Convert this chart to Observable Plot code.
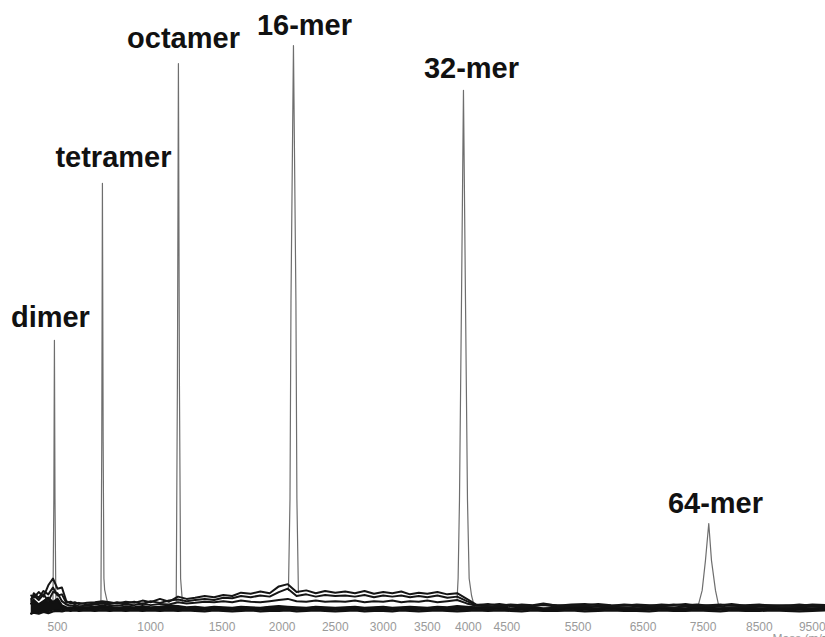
<!DOCTYPE html>
<html>
<head>
<meta charset="utf-8">
<script src="https://cdn.jsdelivr.net/npm/d3@7"></script>
<script src="https://cdn.jsdelivr.net/npm/@observablehq/plot@0.6"></script>
<style>
  html, body { margin: 0; padding: 0; background: #fff; }
  #chart svg { display: block; }
</style>
</head>
<body>
<div id="chart"></div>
<script>
// ---- data (mass in Da, intensity in arbitrary units) ----
const tickMass = [500, 1000, 1500, 2000, 2500, 3000, 3500, 4000, 4500, 5500, 6500, 7500, 8500, 9500];

const labelNames = ["dimer", "tetramer", "octamer", "16-mer", "32-mer", "64-mer"];
const labelMass  = [469, 780, 1218, 2203, 4039, 7715];
const labelValue = [50.3, 78.5, 99.6, 101.8, 94.2, 17.6];

// peak outlines [mass, intensity]
const peakDimer    = [[480, 1.5], [484, 20], [486.5, 48.0], [489, 20], [493, 1.5]];
const peakTetramer = [[712, 1.5], [716.5, 30], [720, 75.7], [724, 30], [728, 6], [732, 4], [742, 2.5], [752, 1.2]];
const peakOctamer  = [[1168, 2], [1176, 40], [1183, 96.8], [1190, 40], [1198, 6], [1210, 2]];
const peak16mer    = [[2056, 3.9], [2070, 20], [2079, 55], [2101.5, 100], [2124, 55], [2133, 20], [2147, 3.5]];
const peak32mer    = [[3860, 2.5], [3872, 6], [3889, 19.8], [3914, 55], [3938.6, 92.1], [3964, 55], [3989, 19.8], [4010, 6], [4040, 3], [4077, 1]];
const peak64mer    = [[7420, 1.4], [7484, 3.9], [7541, 9.2], [7598, 15.7], [7645, 9.2], [7715, 3.9], [7767, 1.4]];

// baseline noise of the overlaid spectra
const massGrid = [390, 400, 420, 440, 460, 480, 500, 520, 540, 560, 580, 600, 640, 680, 720, 760, 800, 850, 900, 950,
  1000, 1060, 1120, 1180, 1240, 1300, 1370, 1440, 1510, 1580, 1650, 1730, 1810, 1890, 1970, 2050, 2130, 2220, 2310, 2400,
  2500, 2600, 2700, 2800, 2900, 3000, 3100, 3200, 3300, 3400, 3500, 3620, 3740, 3860, 3980, 4100, 4250, 4400, 4550, 4700,
  4850, 5000, 5200, 5400, 5600, 5800, 6000, 6200, 6400, 6600, 6800, 7000, 7200, 7400, 7600, 7800, 8000, 8250, 8500, 8750,
  9000, 9250, 9500, 9750];

const traceA = [-0.2, 0.0, -0.2, 0.1, -0.1, 0.2,
  0.3, 0.2, 0.4, 0.3, 0.4, 0.3, 0.4, 0.3,
  0.4, 0.3, 0.4, 0.3, 0.4, 0.3, 0.4, 0.3, 0.4,
  0.3, 0.4, 0.3, 0.2, 0.4, 0.3, 0.2, 0.3, 0.4, 0.2, 0.3, 0.3, 0.4, 0.2, 0.3, 0.4, 0.3, 0.2,
  0.3, 0.4, 0.2, 0.3, 0.3, 0.2, 0.4, 0.3, 0.2, 0.3, 0.4, 0.3, 0.2, 0.3, 0.4,
  0.3, 0.4, 0.3, 0.2, 0.4, 0.3, 0.3, 0.4, 0.2, 0.3, 0.4, 0.3, 0.3, 0.2, 0.4, 0.3, 0.3, 0.4, 0.3, 0.2, 0.4, 0.3, 0.3, 0.4, 0.3, 0.2, 0.3, 0.4];

const traceB = [1.6, 2.2, 1.4, 2.0, 2.6, 1.8,
  2.4, 1.2, 0.9, 0.8, 1.0, 0.8, 0.9, 1.0,
  1.2, 1.0, 0.8, 1.0, 0.9, 1.1, 0.9, 1.0, 1.2,
  1.1, 0.9, 1.0, 0.8, 1.0, 0.9, 0.8, 1.0, 0.9, 0.8, 1.0, 1.1, 1.0, 0.9, 0.8, 1.0, 0.9, 0.8,
  0.9, 1.0, 0.8, 0.9, 1.0, 0.8, 0.9, 1.0, 0.9, 0.8, 1.0, 0.9, 1.1, 1.0, 0.9,
  0.8, 0.9, 0.7, 0.8, 0.9, 0.7, 0.8, 0.9, 0.8, 0.7, 0.9, 0.8, 0.7, 0.8, 0.9, 0.8, 0.7, 0.9, 0.8, 0.7, 0.8, 0.9, 0.7, 0.8, 0.9, 0.8, 0.7, 0.8];

const traceC = [2.4, 3.0, 2.2, 3.2, 2.0, 3.6,
  3.4, 2.0, 1.4, 1.2, 1.3, 1.1, 1.2, 1.4,
  1.6, 1.3, 1.2, 1.4, 1.3, 1.6, 1.3, 1.5, 1.4,
  1.8, 1.6, 1.7, 1.9, 1.8, 2.0, 1.8, 2.1, 1.9, 1.8, 2.0, 2.2, 2.4, 2.0, 1.9, 2.1, 1.9, 2.0,
  1.9, 2.1, 1.8, 2.0, 1.9, 2.1, 1.8, 2.0, 1.9, 2.1, 1.8, 2.0, 2.2, 1.6, 1.2,
  1.1, 1.0, 1.2, 1.0, 1.1, 1.3, 1.0, 1.1, 1.2, 1.0, 1.1, 0.9, 1.0, 1.1, 1.0, 0.9, 1.1, 1.0, 1.2, 1.0, 0.9, 1.1, 1.0, 1.0, 0.9, 1.1, 1.0, 1.0];

const traceD = [3.0, 2.6, 3.6, 2.8, 4.8, 6.0,
  4.2, 4.4, 2.0, 1.6, 1.8, 1.5, 1.7, 1.8,
  2.0, 1.8, 1.6, 1.9, 1.7, 2.1, 1.8, 2.4, 1.9,
  2.8, 2.4, 2.6, 2.9, 2.7, 3.1, 2.9, 3.5, 3.3, 3.7, 3.4, 4.6, 5.0, 3.6, 3.9, 3.4, 3.8, 3.5,
  3.7, 3.4, 3.8, 3.3, 3.6, 3.4, 3.7, 3.2, 3.5, 3.3, 3.6, 3.2, 3.4, 2.4, 1.4,
  1.3, 1.5, 1.2, 1.4, 1.3, 1.6, 1.2, 1.4, 1.5, 1.3, 1.2, 1.4, 1.3, 1.2, 1.4, 1.3, 1.5, 1.2, 1.3, 1.4, 1.2, 1.3, 1.4, 1.2, 1.3, 1.2, 1.4, 1.3];

const traceE = [2.0, 3.4, 2.6, 3.8, 3.2, 4.4,
  3.0, 3.2, 1.7, 1.9, 1.5, 1.7, 1.4, 1.6,
  1.8, 1.5, 1.8, 1.6, 1.9, 1.5, 2.0, 1.7, 2.1,
  2.3, 2.0, 2.2, 2.4, 2.2, 2.6, 2.5, 2.9, 2.7, 3.0, 2.8, 3.6, 4.2, 2.9, 3.2, 2.8, 3.1, 2.9,
  3.0, 2.8, 3.1, 2.7, 3.0, 2.8, 3.0, 2.7, 2.9, 2.7, 3.0, 2.6, 2.8, 2.0, 1.3,
  1.5, 1.2, 1.4, 1.3, 1.2, 1.4, 1.3, 1.2, 1.3, 1.5, 1.3, 1.2, 1.4, 1.3, 1.2, 1.4, 1.3, 1.4, 1.2, 1.3, 1.5, 1.2, 1.3, 1.3, 1.2, 1.4, 1.2, 1.3];

// ---- tables built from the arrays ----
const peakRows = [
  ["dimer", peakDimer], ["tetramer", peakTetramer], ["octamer", peakOctamer],
  ["16-mer", peak16mer], ["32-mer", peak32mer], ["64-mer", peak64mer]
].flatMap(([name, pts]) => pts.map(([mass, value]) => ({name, mass, value})));

const noiseRows = [["C", traceC], ["D", traceD], ["E", traceE]]
  .flatMap(([trace, vals]) => massGrid.map((mass, i) => ({trace, mass, value: vals[i]})));
const lowRows = [["A", traceA], ["B", traceB]]
  .flatMap(([trace, vals]) => massGrid.map((mass, i) => ({trace, mass, value: vals[i]})));
const bandRows = massGrid.map((mass, i) => ({mass, lo: traceA[i], hi: traceB[i]}));

const labels = labelNames.map((name, i) => ({name, mass: labelMass[i], value: labelValue[i]}));

const chart = Plot.plot({
  width: 825,
  height: 637,
  marginLeft: 0,
  marginRight: 0,
  marginTop: 45,
  marginBottom: 25,
  style: {fontFamily: "'Liberation Sans', Arial, sans-serif", background: "#fff", overflow: "visible"},
  x: {type: "sqrt", domain: [278.6, 9758], axis: null},
  y: {domain: [0, 100], axis: null},
  marks: [
    Plot.line(peakRows, {x: "mass", y: "value", z: "name", stroke: "#6e6e6e", strokeWidth: 1.2}),
    Plot.areaY(bandRows, {x: "mass", y1: "lo", y2: "hi", fill: "#111"}),
    Plot.line(lowRows, {x: "mass", y: "value", z: "trace", stroke: "#111", strokeWidth: 2.4}),
    Plot.line(noiseRows, {x: "mass", y: "value", z: "trace", stroke: "#151515", strokeWidth: 2.0}),
    Plot.axisX({ticks: tickMass, tickSize: 0, tickPadding: 10, fontSize: 12, color: "#9a9a9a", tickFormat: d => String(d), label: null}),
    Plot.text(["Mass (m/z)"], {frameAnchor: "bottom-right", dx: -53, dy: 22, textAnchor: "start", lineAnchor: "top", fill: "#9a9a9a", fontSize: 12}),
    Plot.text(labels, {x: "mass", y: "value", text: "name", textAnchor: "middle", lineAnchor: "bottom",
      fontSize: 29, fontWeight: "bold", fill: "#111"})
  ]
});
document.getElementById("chart").appendChild(chart);
</script>
</body>
</html>
